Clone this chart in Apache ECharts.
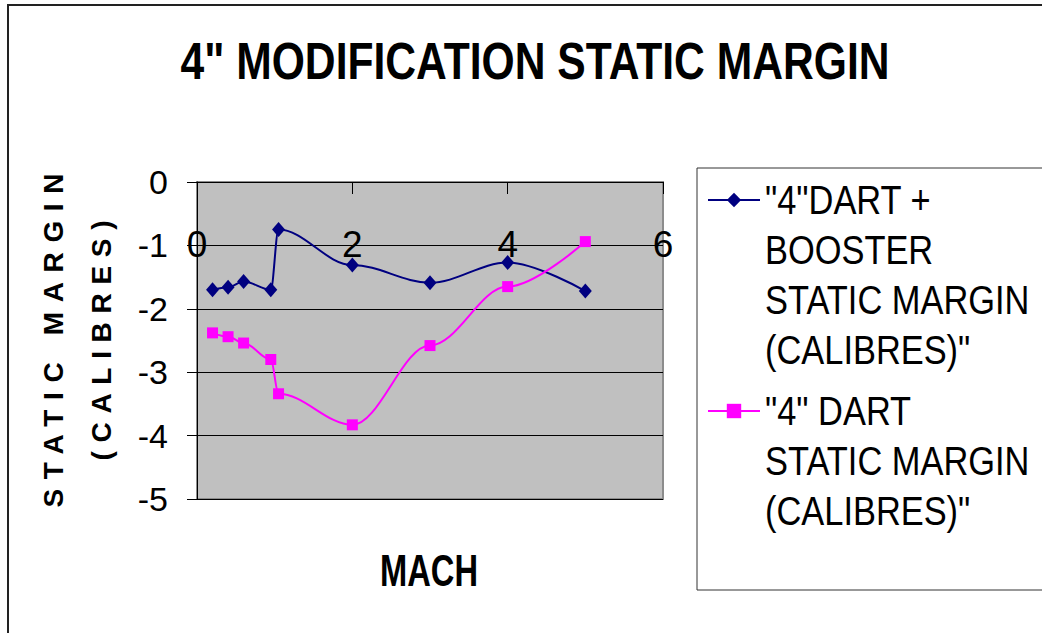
<!DOCTYPE html>
<html>
<head>
<meta charset="utf-8">
<script src="https://cdn.jsdelivr.net/npm/echarts@6/dist/echarts.min.js"></script>
<style>
  html, body { margin: 0; padding: 0; background: #fff; }
  #chart { width: 1042px; height: 633px; }
</style>
</head>
<body>
<div id="chart"></div>
<script>
// Mach numbers shared by both configurations
const mach = [0.2, 0.4, 0.6, 0.95, 1.05, 2, 3, 4, 5];
// Static margin in calibres (negative = stable)
const dartBoosterMargin = [-1.70, -1.66, -1.57, -1.70, -0.75, -1.31, -1.59, -1.27, -1.72];
const dartMargin = [-2.38, -2.44, -2.54, -2.80, -3.34, -3.83, -2.58, -1.65, -0.94];
// Axis tick values
const machTicks = [0, 2, 4, 6];
const marginTicks = [0, -1, -2, -3, -4, -5];
// Series names and how they wrap in the legend
const seriesNames = ['"4"DART + BOOSTER STATIC MARGIN (CALIBRES)"', '"4" DART STATIC MARGIN (CALIBRES)"'];
const legendLines = [
  ['"4"DART +', 'BOOSTER', 'STATIC MARGIN', '(CALIBRES)"'],
  ['"4" DART', 'STATIC MARGIN', '(CALIBRES)"']
];
const chartTitle = '4" MODIFICATION STATIC MARGIN';
const xTitle = 'MACH';
const yTitleLines = ['STATIC MARGIN', '(CALIBRES)'];

const SANS = '"Liberation Sans", Arial, sans-serif';
const LEGEND_LINE_H = 50;

const pairs = (xs, ys) => xs.map((x, i) => [x, ys[i]]);

// Legend text is centred on its icon, so blank lines in front of a wrapped
// name bring its first line level with the icon.
function legendText(name) {
  const lines = legendLines[seriesNames.indexOf(name)];
  return '\n'.repeat(lines.length - 1) + lines.join('\n');
}

const option = {
  animation: false,
  backgroundColor: '#ffffff',
  title: {
    text: chartTitle,
    left: 530,
    top: 30,
    textAlign: 'center',
    textStyle: { fontFamily: SANS, fontWeight: 'bold', fontSize: 52, color: '#000' }
  },
  grid: {
    left: 197, top: 182, width: 466, height: 317,
    show: true,
    backgroundColor: '#c0c0c0',
    borderColor: '#8c8c8c',
    borderWidth: 2
  },
  xAxis: {
    type: 'value',
    position: 'top',
    min: machTicks[0],
    max: machTicks[machTicks.length - 1],
    interval: machTicks[1] - machTicks[0],
    axisLine: { show: true, onZero: false, lineStyle: { color: '#000', width: 1 } },
    axisTick: { show: true, inside: true, length: 12, lineStyle: { color: '#000' } },
    axisLabel: { inside: true, margin: 44, fontFamily: SANS, fontSize: 37, color: '#000' },
    splitLine: { show: false }
  },
  yAxis: {
    type: 'value',
    min: marginTicks[marginTicks.length - 1],
    max: marginTicks[0],
    interval: 1,
    axisLine: { show: true, lineStyle: { color: '#000', width: 1 } },
    axisTick: { show: true, length: 10, lineStyle: { color: '#000' } },
    axisLabel: { margin: 29, fontFamily: SANS, fontSize: 34, color: '#000' },
    splitLine: { show: true, lineStyle: { color: '#000', width: 1 } },
    name: yTitleLines.join('\n'),
    nameLocation: 'middle',
    nameRotate: 90,
    nameGap: 72,
    nameTextStyle: { fontFamily: SANS, fontWeight: 'bold', fontSize: 28, lineHeight: 48, color: '#000' }
  },
  legend: seriesNames.map((name, i) => ({
    orient: 'vertical',
    left: 702,
    top: i === 0 ? 20 : 281,
    padding: 5,
    itemWidth: 52,
    itemHeight: 18,
    itemGap: 0,
    data: [name],
    formatter: legendText,
    textStyle: { fontFamily: SANS, fontSize: 40, lineHeight: LEGEND_LINE_H, color: '#000' }
  })),
  graphic: [
    {
      type: 'rect', silent: true, z: -1,
      shape: { x: 8, y: 5, width: 1100, height: 700 },
      style: { fill: 'none', stroke: '#222', lineWidth: 2 }
    },
    {
      type: 'rect', silent: true, z: -1,
      shape: { x: 697, y: 168, width: 400, height: 422 },
      style: { fill: '#fff', stroke: '#333', lineWidth: 1 }
    },
    {
      type: 'text', silent: true,
      x: 429, y: 570,
      style: {
        text: xTitle, fontFamily: SANS, fontWeight: 'bold', fontSize: 44,
        fill: '#000', align: 'center', verticalAlign: 'middle'
      }
    }
  ],
  series: [
    {
      name: seriesNames[0],
      type: 'line',
      data: pairs(mach, dartBoosterMargin),
      smooth: 0.35,
      smoothMonotone: 'x',
      symbol: 'diamond',
      symbolSize: [13, 15],
      lineStyle: { color: '#000080', width: 2 },
      itemStyle: { color: '#000080' }
    },
    {
      name: seriesNames[1],
      type: 'line',
      data: pairs(mach, dartMargin),
      smooth: 0.35,
      smoothMonotone: 'x',
      symbol: 'rect',
      symbolSize: 11,
      lineStyle: { color: '#ff00ff', width: 2 },
      itemStyle: { color: '#ff00ff' }
    }
  ]
};

const dom = document.getElementById('chart');
const chart = echarts.init(dom, null, { renderer: 'svg' });
chart.setOption(option);

// Typesetting: narrow faces for headings and legend, wide tracking on the vertical title
const legendLineSet = new Set(legendLines.flat());
function typeset() {
  dom.querySelectorAll('svg text').forEach(t => {
    if (t.dataset.set) return;
    const s = t.textContent;
    const bold = parseInt(getComputedStyle(t).fontWeight, 10) >= 600;
    const natural = t.getComputedTextLength();
    let length = null, adjust = 'spacingAndGlyphs';
    if (s === chartTitle) length = 709;
    else if (s === xTitle) length = 98;
    else if (bold && s === yTitleLines[0]) { length = 334; adjust = 'spacing'; }
    else if (bold && s === yTitleLines[1]) { length = 240; adjust = 'spacing'; }
    else if (!bold && legendLineSet.has(s)) length = natural * 0.86;
    if (length !== null) {
      t.setAttribute('textLength', length.toFixed(1));
      t.setAttribute('lengthAdjust', adjust);
      t.dataset.set = '1';
    }
  });
}
chart.on('finished', typeset);
typeset();
</script>
</body>
</html>
